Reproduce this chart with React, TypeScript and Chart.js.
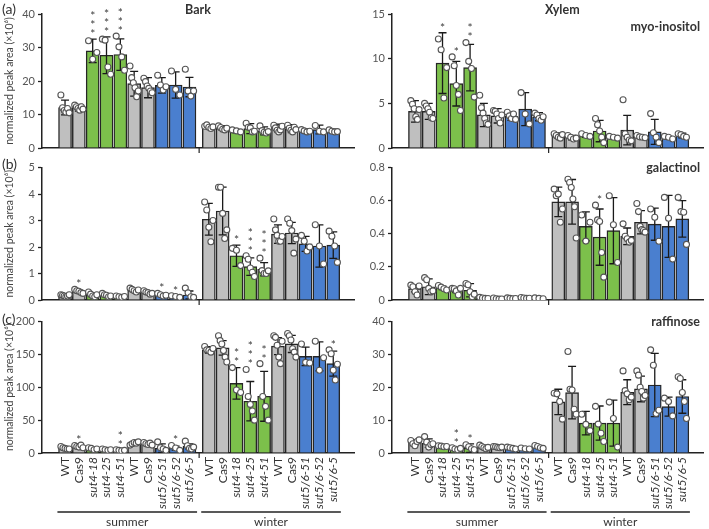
import React, { useEffect, useRef } from "react";
import { Chart, registerables } from "chart.js";

Chart.register(...registerables);

const FONT = "Lato, 'Open Sans', 'DejaVu Sans', sans-serif";

// genotype order within each season
const genotypes = ["WT", "Cas9", "sut4-18", "sut4-25", "sut4-51", "WT", "Cas9", "sut5/6-51", "sut5/6-52", "sut5/6-5"];
const seasons = ["summer", "winter"];
const barLabels = [...genotypes, ...genotypes];
const genotypeGroup = ["control", "control", "sut4", "sut4", "sut4", "control", "control", "sut56", "sut56", "sut56"];
const groupColor: Record<string, string> = { control: "#BFBFBF", sut4: "#7CC04B", sut56: "#4A7FCF" };

// ---- (a) myo-inositol, bark ----
const barkInositolMean = [12.1, 12.0, 29.0, 27.7, 27.9, 19.2, 18.0, 18.7, 18.8, 18.2, 6.3, 6.0, 5.0, 5.8, 5.1, 6.0, 5.8, 5.1, 5.5, 5.0];
const barkInositolSd = [2.2, 1.0, 3.5, 5.5, 4.7, 3.7, 3.0, 2.3, 3.9, 2.9, 0.5, 0.7, 0.5, 1.5, 1.2, 1.1, 1.2, 0.6, 1.3, 0.6];
const barkInositolPts = [
  [15.8, 12.0, 11.2, 10.7, 11.8, 10.5], [12.8, 12.3, 11.8, 11.3, 12.3, 11.6], [32.0, 26.5, 28.5], [32.5, 32.2, 24.2, 22.0],
  [33.4, 30.2, 27.2, 23.2], [24.5, 21.0, 19.5, 18.0, 15.3, 17.0], [20.8, 19.8, 18.5, 17.8, 17.0, 16.5], [21.7, 18.8, 17.3, 18.3],
  [23.0, 17.5, 15.8], [23.5, 17.0, 15.5, 17.0],
  [6.5, 6.9, 6.2, 5.8, 6.3], [6.6, 6.1, 5.6, 5.4, 5.9], [5.4, 5.1, 4.8], [7.4, 6.2, 6.0, 4.8, 5.0], [6.6, 5.2, 4.7, 4.5, 4.9],
  [6.8, 6.0, 5.3, 4.8, 5.4, 6.5], [6.8, 5.9, 5.3, 4.8, 6.2, 5.5], [5.5, 5.1, 4.8, 5.0], [6.7, 5.0, 4.8], [5.4, 5.0, 4.8, 4.9],
];
const barkInositolStars = ["", "", "***", "***", "***", "", "", "", "", "", "", "", "", "", "", "", "", "", "", ""];

// ---- (a) myo-inositol, xylem ----
const xylemInositolMean = [4.1, 4.1, 9.5, 7.2, 9.0, 3.7, 3.6, 3.55, 4.35, 3.5, 1.4, 1.15, 1.4, 1.9, 1.15, 2.0, 1.25, 1.8, 1.15, 1.4];
const xylemInositolSd = [1.2, 0.9, 3.4, 2.5, 2.6, 1.3, 0.8, 0.45, 1.85, 0.45, 0.3, 0.25, 0.2, 1.2, 0.15, 1.65, 0.15, 1.4, 0.15, 0.25];
const xylemInositolPts = [
  [5.3, 4.9, 4.4, 3.5, 3.2, 4.3], [5.0, 4.7, 4.4, 4.0, 3.4, 3.3], [12.2, 11.0, 5.6, 9.0], [10.2, 9.2, 7.0, 6.0, 4.2],
  [11.8, 9.7, 8.9, 5.7], [5.9, 4.5, 3.9, 3.3, 2.8, 2.65], [4.2, 4.1, 3.8, 3.3, 2.8, 3.7], [4.0, 3.6, 3.3, 3.8, 3.2],
  [6.2, 3.8, 2.7], [3.9, 3.7, 3.3, 3.1, 3.5],
  [1.6, 1.4, 1.2, 1.1, 1.5], [1.4, 1.2, 1.0, 1.1], [1.6, 1.4, 1.3], [3.3, 2.6, 1.9, 1.2, 0.6], [1.3, 1.2, 1.1],
  [5.4, 1.6, 1.2, 0.9, 0.8], [1.4, 1.25, 1.2, 1.15], [3.85, 1.7, 1.2, 0.6], [1.3, 1.2, 1.0], [1.6, 1.5, 1.3, 1.2],
];
const xylemInositolStars = ["", "", "*", "*", "**", "", "", "", "", "", "", "", "", "", "", "", "", "", "", ""];

// ---- (b) galactinol, bark ----
const barkGalactinolMean = [0.17, 0.31, 0.19, 0.18, 0.12, 0.37, 0.28, 0.19, 0.13, 0.19, 3.05, 3.36, 1.67, 1.26, 1.16, 2.49, 2.53, 2.12, 2.04, 2.07];
const barkGalactinolSd = [0.04, 0.06, 0.08, 0.05, 0.03, 0.06, 0.05, 0.05, 0.03, 0.15, 0.6, 0.9, 0.4, 0.33, 0.25, 0.35, 0.4, 0.28, 0.8, 0.5];
const barkGalactinolPts = [
  [0.2, 0.18, 0.15, 0.12, 0.15, 0.2], [0.4, 0.35, 0.33, 0.28, 0.25], [0.3, 0.22, 0.15, 0.12, 0.2], [0.25, 0.2, 0.18, 0.12, 0.15],
  [0.15, 0.12, 0.1, 0.13], [0.45, 0.4, 0.35, 0.3, 0.38], [0.35, 0.3, 0.28, 0.22, 0.25], [0.25, 0.2, 0.15, 0.18],
  [0.16, 0.13, 0.1], [0.45, 0.27, 0.12, 0.1],
  [3.7, 3.4, 2.75, 2.2, 3.0], [4.26, 4.26, 3.27, 2.32, 2.65], [1.95, 1.88, 1.3], [1.67, 1.54, 1.21, 1.05, 0.89], [1.58, 1.11, 1.0, 1.0, 1.1],
  [3.06, 2.65, 2.44, 2.22, 2.22, 2.4], [3.06, 2.9, 2.62, 1.77, 2.3], [2.44, 2.22, 1.85, 2.0], [2.84, 2.04, 1.36], [2.6, 2.41, 2.04, 1.42],
];
const barkGalactinolStars = ["", "*", "", "", "", "", "", "*", "*", "", "", "", "*", "***", "***", "", "", "", "", ""];

// ---- (b) galactinol, xylem ----
const xylemGalactinolMean = [0.069, 0.08, 0.073, 0.059, 0.059, 0.012, 0.008, 0.01, 0.012, 0.01, 0.593, 0.593, 0.445, 0.38, 0.419, 0.385, 0.47, 0.458, 0.445, 0.49];
const xylemGalactinolSd = [0.02, 0.048, 0.01, 0.015, 0.04, 0.003, 0.003, 0.003, 0.003, 0.003, 0.089, 0.135, 0.088, 0.17, 0.2, 0.05, 0.07, 0.097, 0.187, 0.11];
const xylemGalactinolPts = [
  [0.09, 0.08, 0.05, 0.03, 0.085], [0.135, 0.122, 0.07, 0.05, 0.055], [0.088, 0.078, 0.068, 0.06], [0.07, 0.068, 0.055, 0.03, 0.07],
  [0.1, 0.092, 0.05, 0.02, 0.035], [0.016, 0.012, 0.01, 0.009], [0.012, 0.008, 0.005, 0.006], [0.013, 0.01, 0.008, 0.009],
  [0.015, 0.012, 0.01, 0.011], [0.013, 0.01, 0.008],
  [0.67, 0.63, 0.64, 0.47, 0.55], [0.73, 0.71, 0.68, 0.61, 0.563, 0.375], [0.514, 0.356, 0.47], [0.573, 0.484, 0.474, 0.287, 0.138],
  [0.63, 0.455, 0.227], [0.46, 0.385, 0.37, 0.35, 0.36], [0.583, 0.534, 0.445, 0.425, 0.42, 0.41], [0.55, 0.5, 0.355],
  [0.62, 0.494, 0.247], [0.62, 0.534, 0.53, 0.336],
];
const xylemGalactinolStars = ["", "", "", "", "", "", "", "", "", "", "", "", "", "*", "", "", "", "", "", ""];

// ---- (c) raffinose, bark ----
const barkRaffinoseMean = [7.5, 10, 6.5, 5, 4, 15, 14, 7.5, 7.5, 10, 157, 160, 106, 78.8, 86.3, 162.6, 166, 147, 147, 136];
const barkRaffinoseSd = [1.5, 1.5, 1.2, 1, 0.6, 1.8, 1.5, 6.5, 3, 4, 4.8, 11, 24, 30, 38, 13, 13, 14, 22, 19];
const barkRaffinosePts = [
  [10, 8, 7, 6, 6], [11.5, 10, 9, 12, 8], [8, 7, 5, 6], [6, 5, 4, 5], [5, 4, 3.5, 4], [12, 14, 16, 15, 17], [16, 14, 13, 15, 12],
  [17, 8, 6, 4], [11.5, 7.5, 4], [18, 11, 7, 6, 9],
  [162, 157, 156, 153.5, 159], [178.5, 171, 166, 156, 146, 138.6], [130, 96, 92], [127, 86, 74, 64, 50], [136, 86, 71, 50],
  [178.5, 176, 164, 146, 136, 170], [182, 178.5, 172, 158.6, 153.6, 146], [166, 138, 137], [170, 126, 145], [157, 151, 126, 111, 135],
];
const barkRaffinoseStars = ["", "*", "", "", "**", "", "", "", "*", "", "", "", "**", "***", "**", "", "", "", "", "*"];

// ---- (c) raffinose, xylem ----
const xylemRaffinoseMean = [3.3, 3.0, 2.0, 1.3, 1.5, 1.8, 1.8, 1.5, 1.3, 1.8, 15.55, 18.4, 9.1, 9.1, 9.1, 18.5, 19.5, 20.7, 14.1, 17.2];
const xylemRaffinoseSd = [0.8, 1.3, 0.2, 0.3, 1.3, 0.6, 0.3, 0.3, 0.2, 0.4, 3.85, 8.0, 3.6, 5.2, 7.0, 3.8, 3.9, 9.6, 2.9, 5.1];
const xylemRaffinosePts = [
  [3.8, 2.8, 2.2, 3.5, 4.0], [5.0, 3.3, 1.8, 2.6, 2.8], [2.2, 2.1, 1.9, 2.0], [1.6, 1.2, 1.0, 1.4], [2.5, 1.9, 1.3, 1.0],
  [2.4, 2.0, 1.6, 1.3, 1.7], [2.0, 1.9, 1.7, 1.6, 1.8], [1.8, 1.6, 1.4, 1.2], [1.5, 1.3, 1.2], [2.3, 2.0, 1.6, 1.4],
  [18.2, 18.0, 15.7, 10.3], [30.9, 19.4, 19.2, 13.3, 11.8], [11.8, 8.7, 6.8], [14.2, 8.8, 6.0, 3.5], [15.5, 10.5, 1.8],
  [25, 19, 18, 16.2, 17], [25, 23.7, 20, 18.7, 16.7, 17.5], [31.4, 26.7, 12, 13], [16.7, 15.7, 11.3], [23.2, 22.7, 18.4, 15.7, 10.5],
];
const xylemRaffinoseStars = ["", "", "", "**", "*", "", "", "", "", "", "", "", "", "", "", "", "", "", "", ""];

// summer bars sit at 0..9, winter bars after a small extra gap
const seasonGap = 0.4;
const xPos = barLabels.map((_, i) => (i < 10 ? i : i + seasonGap));
const barColors = barLabels.map((_, i) => groupColor[genotypeGroup[i % 10]]);

type PanelProps = {
  left: number; top: number; width: number; height: number;
  padTop: number; padRight: number; yWidth: number; xHeight: number;
  yMax: number; yStep: number; yTitle?: string; showX: boolean;
  means: number[]; sds: number[]; pts: number[][]; stars: string[];
};

function Panel(p: PanelProps) {
  const ref = useRef<HTMLCanvasElement>(null);
  useEffect(() => {
    const spread = 0.6;
    const scatter: { x: number; y: number }[] = [];
    p.pts.forEach((vals, i) => {
      const n = vals.length;
      vals.forEach((v, j) => {
        const off = n > 1 ? -spread / 2 + (j * spread) / (n - 1) : 0;
        scatter.push({ x: xPos[i] + off, y: v });
      });
    });

    const overlay = {
      id: "overlay",
      afterDatasetDraw(chart: any, args: any) {
        if (args.index !== 0) return;
        const { ctx, scales: { x, y } } = chart;
        ctx.save();
        ctx.strokeStyle = "#1a1a1a";
        ctx.lineWidth = 1.3;
        p.means.forEach((m, i) => {
          const px = x.getPixelForValue(xPos[i]);
          const t = y.getPixelForValue(m + p.sds[i]);
          const b = y.getPixelForValue(Math.max(0, m - p.sds[i]));
          ctx.beginPath();
          ctx.moveTo(px, t); ctx.lineTo(px, b);
          ctx.moveTo(px - 4, t); ctx.lineTo(px + 4, t);
          ctx.moveTo(px - 4, b); ctx.lineTo(px + 4, b);
          ctx.stroke();
        });
        ctx.restore();
      },
      afterDatasetsDraw(chart: any) {
        const { ctx, scales: { x, y } } = chart;
        ctx.save();
        // significance asterisks
        ctx.fillStyle = "#404040";
        ctx.font = `12px ${FONT}`;
        ctx.textAlign = "center";
        ctx.textBaseline = "middle";
        p.stars.forEach((s, i) => {
          if (!s) return;
          const topVal = Math.max(p.means[i] + p.sds[i], ...p.pts[i]);
          const base = y.getPixelForValue(topVal) - 8;
          for (let k = 0; k < s.length; k++) {
            ctx.fillText("*", x.getPixelForValue(xPos[i]), base - k * 9 + 3);
          }
        });
        // season divider tick below the axis
        const sx = x.getPixelForValue((xPos[9] + xPos[10]) / 2);
        ctx.strokeStyle = "#222";
        ctx.lineWidth = 1.2;
        ctx.beginPath();
        ctx.moveTo(sx, y.bottom);
        ctx.lineTo(sx, y.bottom + 5);
        ctx.stroke();
        // season brackets under the genotype labels
        if (p.showX) {
          const lineY = y.bottom + 59;
          ctx.lineWidth = 1.5;
          ctx.fillStyle = "#333";
          ctx.font = `12px ${FONT}`;
          ctx.textBaseline = "middle";
          seasons.forEach((name, k) => {
            const a = x.getPixelForValue(xPos[k * 10] - 0.55);
            const b = x.getPixelForValue(xPos[k * 10 + 9] + 0.55);
            ctx.beginPath();
            ctx.moveTo(a, lineY); ctx.lineTo(b, lineY);
            ctx.stroke();
            ctx.fillText(name, (a + b) / 2, lineY + 10);
          });
        }
        ctx.restore();
      },
    };

    const chart = new Chart(ref.current as HTMLCanvasElement, {
      type: "bar",
      data: {
        datasets: [
          {
            type: "bar",
            data: p.means.map((m, i) => ({ x: xPos[i], y: m })),
            backgroundColor: barColors,
            borderColor: "#262626",
            borderWidth: 1.4,
            barThickness: 13,
            order: 2,
          } as any,
          {
            type: "scatter",
            data: scatter,
            pointRadius: 3,
            pointBackgroundColor: "#ffffff",
            pointBorderColor: "#555",
            pointBorderWidth: 1.1,
            order: 1,
          } as any,
        ],
      },
      options: {
        responsive: false,
        animation: false,
        events: [],
        layout: { padding: { top: p.padTop, right: p.padRight, left: 0, bottom: 0 } },
        plugins: { legend: { display: false }, tooltip: { enabled: false } },
        scales: {
          x: {
            type: "linear",
            min: -1.1,
            max: 20.4,
            afterBuildTicks: (s: any) => { s.ticks = xPos.map((v) => ({ value: v })); },
            afterFit: (s: any) => { s.height = p.xHeight; },
            ticks: {
              display: p.showX,
              autoSkip: false,
              maxRotation: 90,
              minRotation: 90,
              padding: 4,
              color: "#333",
              callback: (_v: any, i: number) => barLabels[i],
              font: (ctx: any) => ({
                family: FONT,
                size: 12,
                style: (barLabels[ctx.index] || "").startsWith("sut") ? "italic" : "normal",
              }),
            },
            grid: { display: true, drawOnChartArea: false, drawTicks: false },
            border: { display: true, color: "#222", width: 1.5 },
          },
          y: {
            min: 0,
            max: p.yMax,
            afterFit: (s: any) => { s.width = p.yWidth; },
            ticks: {
              stepSize: p.yStep,
              padding: 3,
              color: "#555",
              font: { family: FONT, size: 11 },
              callback: (v: any) => String(Math.round(Number(v) * 100) / 100),
            },
            grid: { display: true, drawOnChartArea: false, drawTicks: true, tickLength: 4, tickColor: "#222", tickWidth: 1.3 },
            border: { display: true, color: "#222", width: 1.5 },
            title: {
              display: !!p.yTitle,
              text: p.yTitle || "",
              color: "#444",
              font: { family: FONT, size: 10.5 },
              padding: { top: 3, bottom: 0 },
            },
          },
        },
      } as any,
      plugins: [overlay],
    });
    return () => chart.destroy();
  }, []);
  return (
    <canvas
      ref={ref}
      width={p.width}
      height={p.height}
      style={{ position: "absolute", left: p.left, top: p.top, width: p.width, height: p.height }}
    />
  );
}

const yTitle = "normalized peak area (×10⁶)";

const txt = (extra: React.CSSProperties): React.CSSProperties => ({
  position: "absolute",
  fontFamily: FONT,
  color: "#333",
  whiteSpace: "nowrap",
  lineHeight: "1",
  ...extra,
});

export default function App() {
  const leftBox = { left: 0, width: 360, yWidth: 42, padRight: 2 };
  const rightBox = { left: 355, width: 354, yWidth: 37, padRight: 1 };
  const rowA = { top: 0, height: 160, padTop: 14, xHeight: 12 };
  const rowB = { top: 158, height: 157, padTop: 7, xHeight: 15 };
  const rowC = { top: 312, height: 217, padTop: 7, xHeight: 76 };
  return (
    <div style={{ position: "fixed", left: 0, top: 0, width: 709, height: 529, background: "#fff", overflow: "hidden" }}>
      <Panel {...leftBox} {...rowA} yMax={40} yStep={10} yTitle={yTitle} showX={false}
        means={barkInositolMean} sds={barkInositolSd} pts={barkInositolPts} stars={barkInositolStars} />
      <Panel {...rightBox} {...rowA} yMax={15} yStep={5} showX={false}
        means={xylemInositolMean} sds={xylemInositolSd} pts={xylemInositolPts} stars={xylemInositolStars} />
      <Panel {...leftBox} {...rowB} yMax={5} yStep={1} yTitle={yTitle} showX={false}
        means={barkGalactinolMean} sds={barkGalactinolSd} pts={barkGalactinolPts} stars={barkGalactinolStars} />
      <Panel {...rightBox} {...rowB} yMax={0.8} yStep={0.2} showX={false}
        means={xylemGalactinolMean} sds={xylemGalactinolSd} pts={xylemGalactinolPts} stars={xylemGalactinolStars} />
      <Panel {...leftBox} {...rowC} yMax={200} yStep={50} yTitle={yTitle} showX={true}
        means={barkRaffinoseMean} sds={barkRaffinoseSd} pts={barkRaffinosePts} stars={barkRaffinoseStars} />
      <Panel {...rightBox} {...rowC} yMax={40} yStep={10} showX={true}
        means={xylemRaffinoseMean} sds={xylemRaffinoseSd} pts={xylemRaffinosePts} stars={xylemRaffinoseStars} />

      <div style={txt({ left: 2, top: 2, fontSize: 14 })}>(a)</div>
      <div style={txt({ left: 2, top: 157, fontSize: 14 })}>(b)</div>
      <div style={txt({ left: 2, top: 312, fontSize: 14 })}>(c)</div>

      <div style={txt({ left: 185, top: 4, fontSize: 12.5, fontWeight: 700 })}>Bark</div>
      <div style={txt({ left: 545, top: 4, fontSize: 12.5, fontWeight: 700 })}>Xylem</div>
      <div style={txt({ right: 9, top: 21, fontSize: 12.5, fontWeight: 700 })}>myo-inositol</div>
      <div style={txt({ right: 9, top: 162, fontSize: 12.5, fontWeight: 700 })}>galactinol</div>
      <div style={txt({ right: 9, top: 316, fontSize: 12.5, fontWeight: 700 })}>raffinose</div>
    </div>
  );
}
